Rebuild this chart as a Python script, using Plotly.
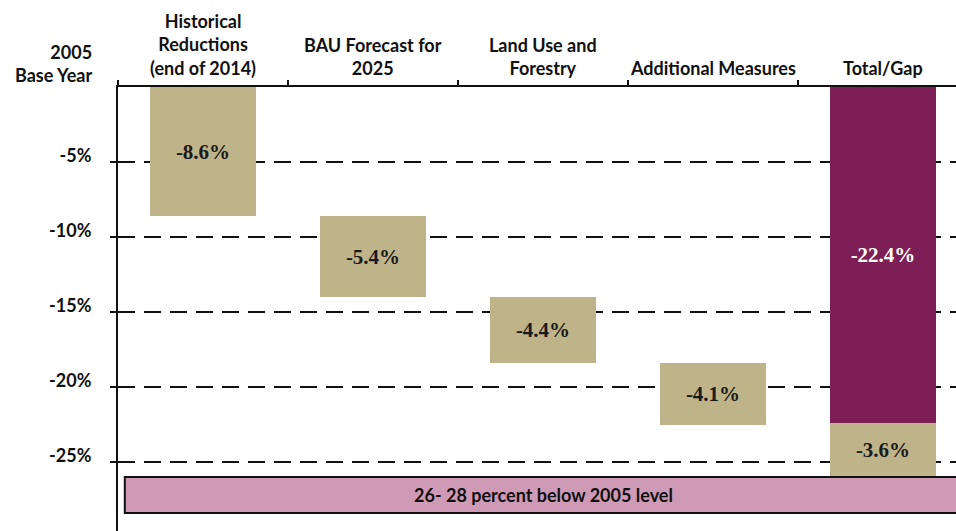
import plotly.graph_objects as go

categories = ["Historical<br>Reductions<br>(end of 2014)", "BAU Forecast for<br>2025",
              "Land Use and<br>Forestry", "Additional Measures", "Total/Gap"]
step_values = [-8.6, -5.4, -4.4, -4.1]
total_value = -22.4
gap_value = -3.6
ytick_vals = [-5, -10, -15, -20, -25]
ytick_text = ["-5%", "-10%", "-15%", "-20%", "-25%"]
target_text = "26- 28 percent below 2005 level"
target_range = [-26.0, -28.4]

TAN = "#BFB38A"
PURPLE = "#7E1E56"
PINK = "#CF9AB6"
INK = "#111111"
SANS = "Lato"
SERIF = "Liberation Serif"

# cumulative bases for the waterfall steps
bases = []
run = 0.0
for v in step_values:
    bases.append(run)
    run += v

label_font = dict(family=SERIF, size=21, color="#1a1a1a", weight="bold")

fig = go.Figure()
fig.add_trace(go.Bar(
    x=[0, 1, 2, 3], y=step_values, base=bases, width=0.62,
    marker=dict(color=TAN, line=dict(width=0)),
    text=[f"{v:.1f}%" for v in step_values], textposition="inside",
    insidetextanchor="middle", constraintext="none",
    textfont=label_font, hoverinfo="skip",
))
fig.add_trace(go.Bar(
    x=[4], y=[total_value], base=[0], width=0.62,
    marker=dict(color=PURPLE, line=dict(width=0)),
    text=[f"{total_value:.1f}%"], textposition="inside",
    insidetextanchor="middle", constraintext="none",
    textfont=dict(label_font, color="white"), hoverinfo="skip",
))
fig.add_trace(go.Bar(
    x=[4], y=[gap_value], base=[total_value], width=0.62,
    marker=dict(color=TAN, line=dict(width=0)),
    text=[f"{gap_value:.1f}%"], textposition="inside",
    insidetextanchor="middle", constraintext="none",
    textfont=label_font, hoverinfo="skip",
))

# target band
fig.add_shape(type="rect", xref="x", yref="y", x0=-0.46, x1=4.6,
              y0=target_range[0], y1=target_range[1],
              fillcolor=PINK, line=dict(color=INK, width=2), layer="above")
fig.add_annotation(x=2.0, y=(target_range[0] + target_range[1]) / 2, xref="x", yref="y",
                   text=f"<b>{target_text}</b>", showarrow=False,
                   font=dict(family=SANS, size=18, color=INK))

# category labels on top
for i, c in enumerate(categories):
    fig.add_annotation(x=i, y=1, xref="x", yref="paper", yanchor="bottom",
                       text=f"<b>{c}</b>", showarrow=False, yshift=6,
                       font=dict(family=SANS, size=18, color=INK))

fig.add_annotation(x=0, y=1, xref="paper", yref="paper", xanchor="right", yanchor="bottom",
                   text="<b>2005<br>Base Year</b>", showarrow=False, align="right",
                   xshift=-24, yshift=-1,
                   font=dict(family=SANS, size=18, color=INK))

fig.update_layout(
    width=956, height=531,
    margin=dict(l=118, r=0, t=87, b=0),
    paper_bgcolor="white", plot_bgcolor="white",
    showlegend=False, barmode="overlay", bargap=0,
    xaxis=dict(range=[-0.5, 4.429], side="top", showline=True, linecolor=INK,
               linewidth=2, showgrid=False, zeroline=False,
               tickmode="array", tickvals=[-0.5, 0.5, 1.5, 2.5, 3.5],
               ticktext=["", "", "", "", ""], ticks="outside", ticklen=5,
               tickcolor=INK, tickwidth=1.5),
    yaxis=dict(range=[-29.6, 0], showline=True, linecolor=INK, linewidth=2,
               zeroline=False, tickmode="array", tickvals=ytick_vals, ticktext=ytick_text,
               ticks="outside", ticklen=6, tickcolor=INK, tickwidth=1.5,
               showgrid=True, gridcolor=INK, gridwidth=1.5, griddash="17px,9px",
               ticklabelstandoff=15, ticklabelshift=-6,
               tickfont=dict(family=SANS, size=18, color=INK, weight="bold")),
)

fig.write_html("out.html", config={"displayModeBar": False},
               post_script="document.body.style.margin='0';document.body.style.overflow='hidden';")
